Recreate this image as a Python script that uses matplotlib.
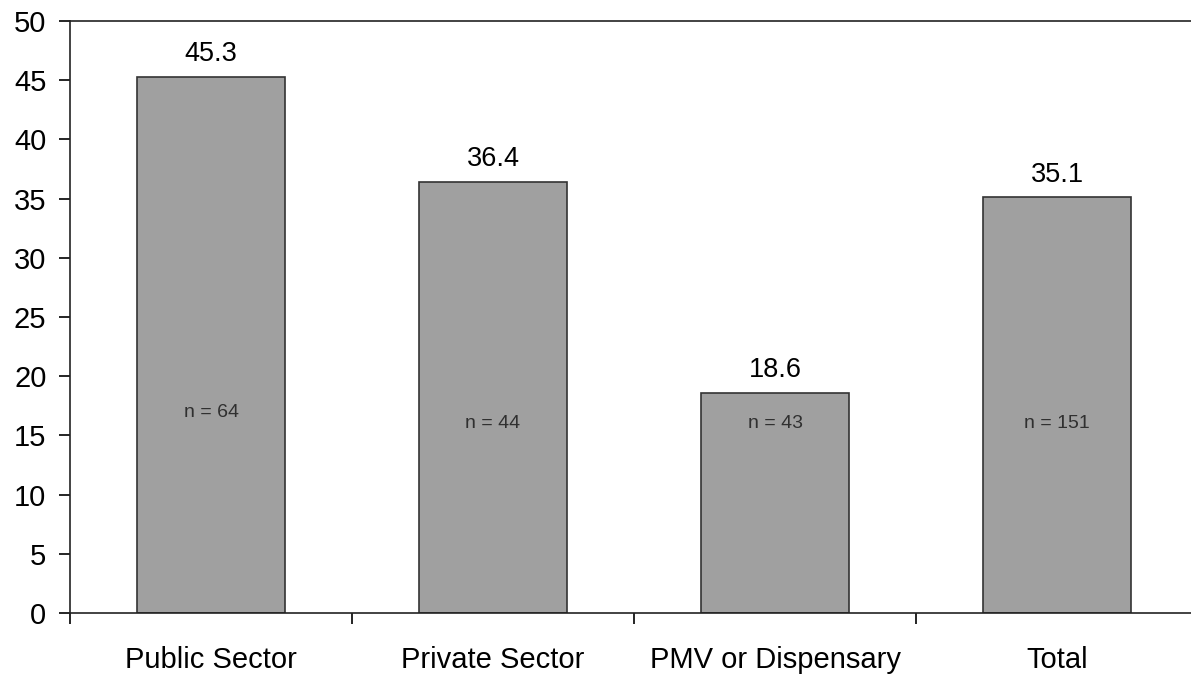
import numpy as np
import matplotlib.pyplot as plt

# DATA:
# ==================================================================
categories = ['Public Sector', 'Private Sector', 'PMV or Dispensary', 'Total']
values     = [45.3, 36.4, 18.6, 35.1]
n_labels   = ['n = 64', 'n = 44', 'n = 43', 'n = 151']

# MAKE PLOT:
# ==================================================================
plt.rcParams['font.family'] = ['Liberation Sans', 'DejaVu Sans']

fig = plt.figure(figsize=(11.91, 6.79), dpi=100)
ax = fig.add_axes([70/1191, 66/679, 1121/1191, 592/679])

x = np.arange(len(categories))
bars = ax.bar(x, values, width=0.525, color='#a0a0a0', edgecolor='#333333', linewidth=1.2)

# value labels above bars
for xi, v in zip(x, values):
    ax.annotate('%.1f' % v, (xi, v), xytext=(0, 7), textcoords='offset points',
                ha='center', va='bottom', fontsize=19.5, color='black')

# n labels inside bars
n_y = [16.9, 16.0, 16.0, 16.0]
for xi, lab, yy in zip(x, n_labels, n_y):
    ax.text(xi, yy, lab, ha='center', va='center', fontsize=14, color='#303030')

ax.set_xlim(-0.5, 3.475)
ax.set_ylim(0, 50)
ax.set_yticks(np.arange(0, 51, 5))
ax.tick_params(axis='y', length=8, width=1.2, pad=9, labelsize=21, direction='out')

# boundaries as major ticks, labels on minor ticks
ax.set_xticks(np.arange(-0.5, 3.5, 1.0))
ax.set_xticklabels([])
ax.set_xticks(x, minor=True)
ax.set_xticklabels(categories, minor=True, fontsize=21)
ax.tick_params(axis='x', which='major', length=8, width=1.2, direction='out')
ax.tick_params(axis='x', which='minor', length=0, pad=24)

for s in ['left', 'bottom', 'top']:
    ax.spines[s].set_linewidth(1.2)
    ax.spines[s].set_color('#222222')
ax.spines['right'].set_visible(False)

plt.savefig('out.png', dpi=100)
